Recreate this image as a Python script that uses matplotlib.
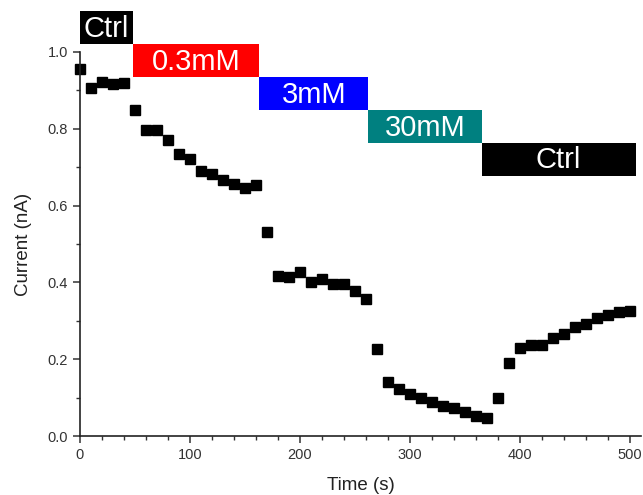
import matplotlib
matplotlib.use("AGG")
import matplotlib.pyplot as plt
from matplotlib.patches import Rectangle
from matplotlib.ticker import MultipleLocator, FormatStrFormatter

plt.rcParams['font.family'] = ['Liberation Sans', 'DejaVu Sans']

# data
time_s = list(range(0, 510, 10))
current_nA = [0.956, 0.907, 0.922, 0.916, 0.918, 0.850, 0.796, 0.796, 0.772, 0.734,
              0.721, 0.690, 0.682, 0.666, 0.657, 0.646, 0.654, 0.532, 0.418, 0.415,
              0.428, 0.402, 0.409, 0.396, 0.396, 0.377, 0.356, 0.227, 0.140, 0.123,
              0.109, 0.100, 0.090, 0.079, 0.074, 0.064, 0.052, 0.046, 0.098, 0.190,
              0.229, 0.237, 0.238, 0.255, 0.265, 0.285, 0.292, 0.307, 0.315, 0.323,
              0.326]

# treatment banners: label, start, end, lower edge
band_labels = ['Ctrl', '0.3mM', '3mM', '30mM', 'Ctrl']
band_start = [0, 48, 163, 262, 365]
band_end = [48, 163, 262, 365, 505]
band_bottom = [1.020, 0.934, 0.848, 0.762, 0.678]
band_colors = ['black', '#ff0000', '#0000ff', '#008080', 'black']
band_height = 0.086

fig = plt.figure(figsize=(6.43, 4.95), dpi=100)
ax = fig.add_axes([0.1244, 0.119, 0.8726, 0.776])

ax.plot(time_s, current_nA, 's', color='black', markersize=7, clip_on=False)

for lab, x0, x1, y0, c in zip(band_labels, band_start, band_end, band_bottom, band_colors):
    ax.add_patch(Rectangle((x0, y0), x1 - x0, band_height, facecolor=c,
                           edgecolor='none', clip_on=False))
    ax.text((x0 + x1) / 2, y0 + band_height / 2 - 0.003, lab, color='white',
            fontsize=21, ha='center', va='center', clip_on=False)

ax.set_xlim(0, 510)
ax.set_ylim(0, 1.0)
ax.xaxis.set_major_locator(MultipleLocator(100))
ax.xaxis.set_minor_locator(MultipleLocator(20))
ax.yaxis.set_major_locator(MultipleLocator(0.2))
ax.yaxis.set_minor_locator(MultipleLocator(0.1))
ax.yaxis.set_major_formatter(FormatStrFormatter('%.1f'))

for s in ['top', 'right']:
    ax.spines[s].set_visible(False)
for s in ['left', 'bottom']:
    ax.spines[s].set_linewidth(1.2)
    ax.spines[s].set_color('#222222')

ax.tick_params(which='major', direction='out', length=5, width=1.1,
               labelsize=10.5, colors='#333333')
ax.tick_params(which='minor', direction='out', length=3, width=1.0, colors='#333333')

ax.set_xlabel('Time (s)', fontsize=13.5, color='#222222', labelpad=11)
ax.set_ylabel('Current (nA)', fontsize=13.5, color='#222222', labelpad=11)

plt.savefig('out.png', dpi=100)
